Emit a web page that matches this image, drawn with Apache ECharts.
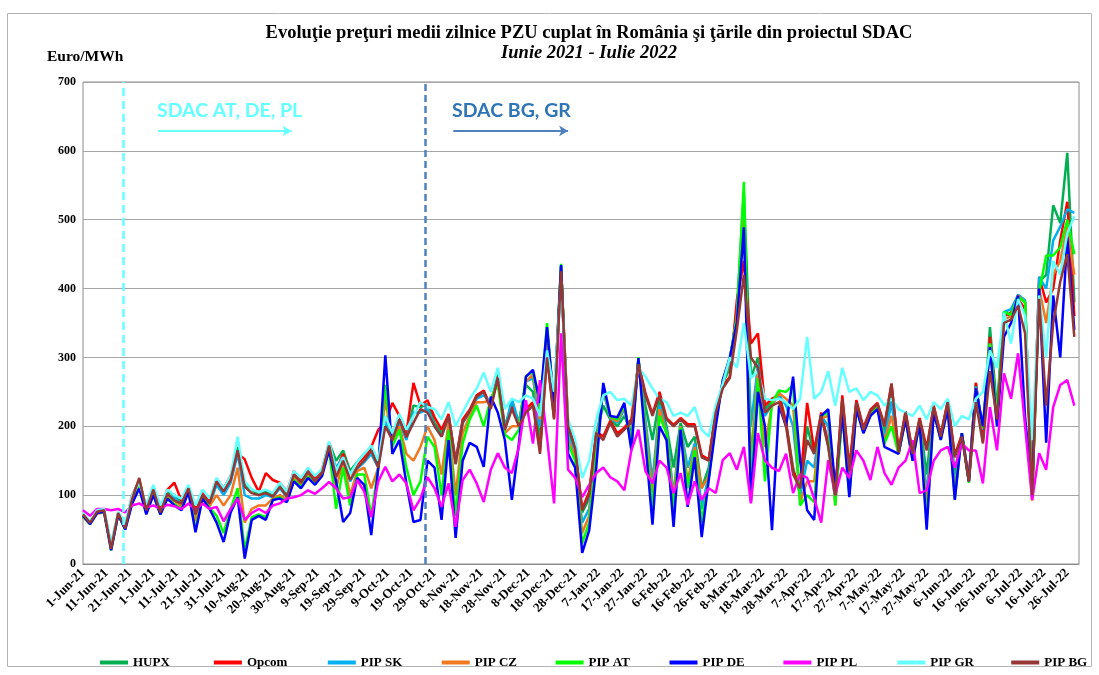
<!DOCTYPE html>
<html>
<head>
<meta charset="utf-8">
<script src="https://cdn.jsdelivr.net/npm/echarts@6/dist/echarts.min.js"></script>
<style>
  html, body { margin: 0; padding: 0; background: #fff; }
  #chart { width: 1099px; height: 675px; }
</style>
</head>
<body>
<div id="chart"></div>
<script>
// preturi medii zilnice, citite din grafic la fiecare 3 zile (1-Jun-21 ... 29-Jul-22)
const startDay = Date.UTC(2021, 5, 1);
const dayCount = 426;
const step = 3;
const monthNames = ['Jan','Feb','Mar','Apr','May','Jun','Jul','Aug','Sep','Oct','Nov','Dec'];

const days = [];
for (let i = 0; i < dayCount; i++) {
  const d = new Date(startDay + i * 86400000);
  days.push(d.getUTCDate() + '-' + monthNames[d.getUTCMonth()] + '-' + String(d.getUTCFullYear()).slice(2));
}

const hupx = [
  70,60,75,77,25,73,54,98,122,80,110,78,105,100,90,111,76,102,89,122,108,
  125,170,115,108,100,105,100,115,100,132,120,136,122,134,176,150,165,
  135,148,160,168,145,210,190,212,186,230,228,232,205,190,216,148,208,
  222,245,250,230,275,200,232,205,260,250,180,330,220,432,195,165,75,95,188,
  230,210,200,215,190,296,230,180,240,200,140,205,170,185,110,140,215,262,285,
  370,540,270,300,225,235,250,205,140,100,200,160,218,172,95,238,125,236,196,
  220,232,190,250,162,218,158,210,130,228,185,234,130,188,120,263,190,
  344,225,366,360,390,380,100,410,420,521,495,597,380
];
const opcom = [
  68,62,74,76,28,72,55,100,120,82,112,80,108,118,92,112,80,104,90,124,110,
  128,160,152,125,105,132,122,118,105,135,122,138,125,138,175,135,160,
  130,145,155,170,195,205,234,215,190,263,230,238,213,195,218,150,210,
  224,245,252,228,272,197,228,202,225,235,165,305,212,430,202,170,80,105,192,
  185,208,190,198,210,292,248,218,250,212,202,212,203,203,158,152,222,258,272,
  383,440,320,335,230,240,245,205,135,115,234,165,220,175,105,245,140,238,198,
  224,234,202,262,165,222,162,212,168,230,188,237,158,188,125,263,178,
  330,215,360,365,385,370,95,417,380,400,470,526,360
];
const pipSK = [
  69,59,74,76,24,72,53,96,118,79,106,76,100,96,87,108,70,99,86,115,100,
  118,160,100,95,95,100,97,110,97,128,117,133,120,131,172,140,155,
  120,138,148,160,140,205,185,205,180,220,220,225,200,185,213,145,205,
  220,240,245,235,270,195,240,205,265,270,200,340,225,432,185,160,60,80,180,
  250,212,205,225,180,298,210,120,230,195,100,200,140,175,80,130,210,265,295,
  360,510,200,290,215,232,245,230,200,100,150,140,215,200,90,225,110,232,194,
  218,230,182,235,160,215,155,208,100,226,183,232,110,190,120,258,195,
  320,220,366,370,391,383,95,417,400,470,490,515,510
];
const pipCZ = [
  68,58,73,75,22,71,52,94,115,77,104,74,98,92,84,106,62,97,84,100,85,
  100,140,60,80,85,85,95,100,94,125,115,130,118,130,170,110,150,
  100,135,140,110,140,240,175,200,160,150,170,200,180,130,205,100,190,
  215,235,235,238,265,190,200,200,265,275,210,342,228,433,180,155,45,70,170,
  255,213,207,228,175,298,200,100,225,190,95,200,120,170,110,128,208,266,298,
  355,500,150,280,170,232,248,240,230,90,120,120,212,215,85,222,105,230,192,
  217,229,178,215,160,213,152,207,80,225,182,230,100,190,120,255,197,
  318,210,355,360,390,380,92,400,350,420,440,490,420
];
const pipAT = [
  69,58,74,76,20,72,50,90,112,74,101,72,96,87,80,106,50,96,82,70,45,
  80,110,20,68,72,68,93,97,91,122,112,127,116,129,167,80,140,
  85,130,130,70,140,260,170,195,140,100,120,185,170,100,195,70,175,
  210,230,200,240,262,188,180,195,272,280,220,350,230,436,175,150,30,60,160,
  258,214,210,230,172,300,190,80,215,190,80,198,110,165,60,125,205,266,300,
  355,555,120,270,120,234,252,250,260,85,100,90,215,220,85,220,100,228,192,
  216,228,175,200,160,212,150,206,62,224,181,229,95,190,118,252,198,
  320,215,366,362,388,380,98,395,448,448,460,500,450
];
const pipDE = [
  70,58,74,76,20,72,50,88,110,72,100,72,95,85,78,105,46,95,80,60,32,
  75,97,8,64,70,64,93,95,90,120,110,125,115,128,165,120,61,
  74,125,115,42,140,303,160,180,117,61,64,150,140,64,180,38,150,
  176,170,141,243,220,180,93,175,272,282,234,344,230,434,160,140,16,49,140,
  263,215,213,234,165,299,176,57,200,180,54,195,83,155,39,122,200,267,300,
  350,489,90,250,200,49,230,200,272,150,78,64,215,225,110,220,97,225,190,
  215,225,170,165,160,210,150,205,50,220,180,225,93,190,120,255,200,
  315,200,330,350,390,213,110,400,176,390,300,475,340
];
const pipPL = [
  78,70,80,80,78,80,75,85,88,82,85,80,86,84,80,88,78,88,80,83,62,
  80,95,64,74,80,74,85,88,95,97,100,107,102,110,119,110,95,
  97,122,105,68,120,141,120,130,117,78,95,126,110,83,117,54,122,
  137,117,90,137,161,140,132,170,238,175,267,184,88,335,137,125,97,115,132,
  140,126,120,107,165,195,135,117,150,140,103,132,86,120,93,110,103,151,161,
  137,170,88,190,150,140,135,160,103,130,125,95,60,151,100,140,125,165,150,
  122,170,132,115,140,150,180,103,107,150,165,170,140,175,165,165,117,
  228,165,277,240,306,200,93,161,137,228,260,267,230
];
const pipGR = [
  74,62,78,80,30,76,60,100,118,85,115,85,108,100,95,115,85,108,95,125,110,
  128,185,120,108,105,108,103,118,105,135,125,140,128,138,178,135,155,
  130,148,160,172,150,215,190,218,195,215,235,228,225,210,235,200,220,
  240,255,278,250,285,225,240,235,245,240,215,310,250,410,210,180,125,150,210,
  245,250,238,240,230,285,272,255,240,235,215,220,215,228,195,185,230,262,300,
  285,350,270,280,240,238,240,235,225,240,330,240,250,280,230,285,250,255,238,
  250,245,230,240,225,220,215,230,210,235,225,240,200,215,210,240,250,
  310,285,365,320,385,360,180,390,300,440,420,480,505
];
const pipBG = [
  72,60,76,78,22,74,52,95,125,78,108,75,102,92,88,110,72,100,88,120,105,
  122,165,112,103,100,103,98,112,98,130,118,134,120,132,172,126,150,
  122,140,150,165,140,200,180,210,184,205,225,220,200,185,215,145,205,
  222,243,250,225,270,195,225,200,220,230,160,300,210,425,200,168,78,100,190,
  180,205,185,195,205,290,245,215,245,210,200,210,200,200,155,150,220,255,270,
  340,420,300,285,220,230,235,200,130,110,180,160,215,170,100,240,135,235,195,
  222,232,200,262,162,220,160,210,165,228,185,235,155,185,120,235,175,
  280,210,350,355,375,335,100,385,230,350,410,450,330
];

const seriesNames = ['HUPX', 'Opcom', 'PIP SK', 'PIP CZ', 'PIP AT', 'PIP DE', 'PIP PL', 'PIP GR', 'PIP BG'];
const seriesValues = [hupx, opcom, pipSK, pipCZ, pipAT, pipDE, pipPL, pipGR, pipBG];
const seriesColors = ['#00B050', '#FF0000', '#00B0F0', '#F07820', '#00FF00', '#0000FF', '#FF00FF', '#66FFFF', '#953735'];

// momentele de cuplare SDAC si sagetile de sub etichete
const couplingDays = [days[17], days[146]];
const arrowSpans = [[days[32], days[89]], [days[158], days[207]]];
const arrowLevel = 629;

const serif = '"Liberation Serif", "Times New Roman", serif';

const chart = echarts.init(document.getElementById('chart'));

const series = seriesNames.map((name, s) => ({
  name: name,
  type: 'line',
  color: seriesColors[s],
  showSymbol: false,
  symbol: 'none',
  lineStyle: { width: 2.5, color: seriesColors[s] },
  data: seriesValues[s].map((v, k) => [k * step, v]),
}));

series.push({
  name: 'marcaje',
  type: 'line',
  data: [],
  z: 5,
  markLine: {
    silent: true,
    animation: false,
    symbol: ['none', 'none'],
    label: { show: false },
    data: [
      { xAxis: couplingDays[0], lineStyle: { color: '#66FFFF', width: 2.5, type: [8, 5] } },
      { xAxis: couplingDays[1], lineStyle: { color: '#4F81BD', width: 2.5, type: [7, 4] } },
      [
        { coord: [arrowSpans[0][0], arrowLevel], symbol: 'none', lineStyle: { color: '#66FFFF', width: 2, type: 'solid' } },
        { coord: [arrowSpans[0][1], arrowLevel], symbol: 'arrow', symbolSize: [8, 9] },
      ],
      [
        { coord: [arrowSpans[1][0], arrowLevel], symbol: 'none', lineStyle: { color: '#4F81BD', width: 2, type: 'solid' } },
        { coord: [arrowSpans[1][1], arrowLevel], symbol: 'arrow', symbolSize: [8, 9] },
      ],
    ],
  },
});

// cate o legenda pe serie, ca intrarile sa fie la distante egale ca in Excel
const legends = seriesNames.map((name, s) => ({
  data: [name],
  left: 95 + s * 113.9,
  top: 651,
  icon: 'rect',
  itemWidth: 28,
  itemHeight: 4,
  selectedMode: false,
  textStyle: {
    fontFamily: serif,
    fontWeight: 'bold',
    fontSize: 13,
    color: '#000',
  },
}));

chart.setOption({
  animation: false,
  backgroundColor: '#fff',
  grid: {
    left: 83,
    right: 20,
    top: 82,
    bottom: 111,
    show: true,
    borderColor: '#8c8c8c',
    borderWidth: 1,
  },
  legend: legends,
  xAxis: {
    type: 'category',
    data: days,
    boundaryGap: false,
    axisTick: { show: false },
    axisLine: { lineStyle: { color: '#8c8c8c' } },
    splitLine: { show: false },
    axisLabel: {
      interval: 9,
      rotate: 45,
      margin: 7,
      fontFamily: serif,
      fontWeight: 'bold',
      fontSize: 13,
      color: '#000',
    },
  },
  yAxis: {
    type: 'value',
    min: 0,
    max: 700,
    interval: 100,
    axisLine: { show: false },
    axisTick: { show: false },
    splitLine: { lineStyle: { color: '#a6a6a6', width: 1 } },
    axisLabel: {
      margin: 7,
      fontFamily: serif,
      fontWeight: 'bold',
      fontSize: 12,
      color: '#000',
    },
  },
  graphic: [
    {
      type: 'rect',
      silent: true,
      z: -10,
      shape: { x: 7.5, y: 13.5, width: 1084, height: 653 },
      style: { fill: 'none', stroke: '#b4b4b4', lineWidth: 1 },
    },
    {
      type: 'text',
      x: 589,
      y: 33,
      style: {
        text: 'Evoluţie preţuri medii zilnice PZU cuplat în România şi ţările din proiectul SDAC',
        font: 'bold 18.5px ' + serif,
        fill: '#000',
        textAlign: 'center',
        textVerticalAlign: 'middle',
      },
    },
    {
      type: 'text',
      x: 589,
      y: 53,
      style: {
        text: 'Iunie 2021 - Iulie 2022',
        font: 'italic bold 18.5px ' + serif,
        fill: '#000',
        textAlign: 'center',
        textVerticalAlign: 'middle',
      },
    },
    {
      type: 'text',
      x: 47,
      y: 57,
      style: {
        text: 'Euro/MWh',
        font: 'bold 15.5px ' + serif,
        fill: '#000',
        textVerticalAlign: 'middle',
      },
    },
    {
      type: 'text',
      x: 157,
      y: 111,
      z: 10,
      style: {
        text: 'SDAC AT, DE, PL',
        font: 'bold 19.5px Lato, "Open Sans", sans-serif',
        fill: '#66FFFF',
        textVerticalAlign: 'middle',
      },
    },
    {
      type: 'text',
      x: 452,
      y: 111,
      z: 10,
      style: {
        text: 'SDAC BG, GR',
        font: 'bold 19.5px Lato, "Open Sans", sans-serif',
        fill: '#2E75B6',
        textVerticalAlign: 'middle',
      },
    },
  ],
  series: series,
});
</script>
</body>
</html>
